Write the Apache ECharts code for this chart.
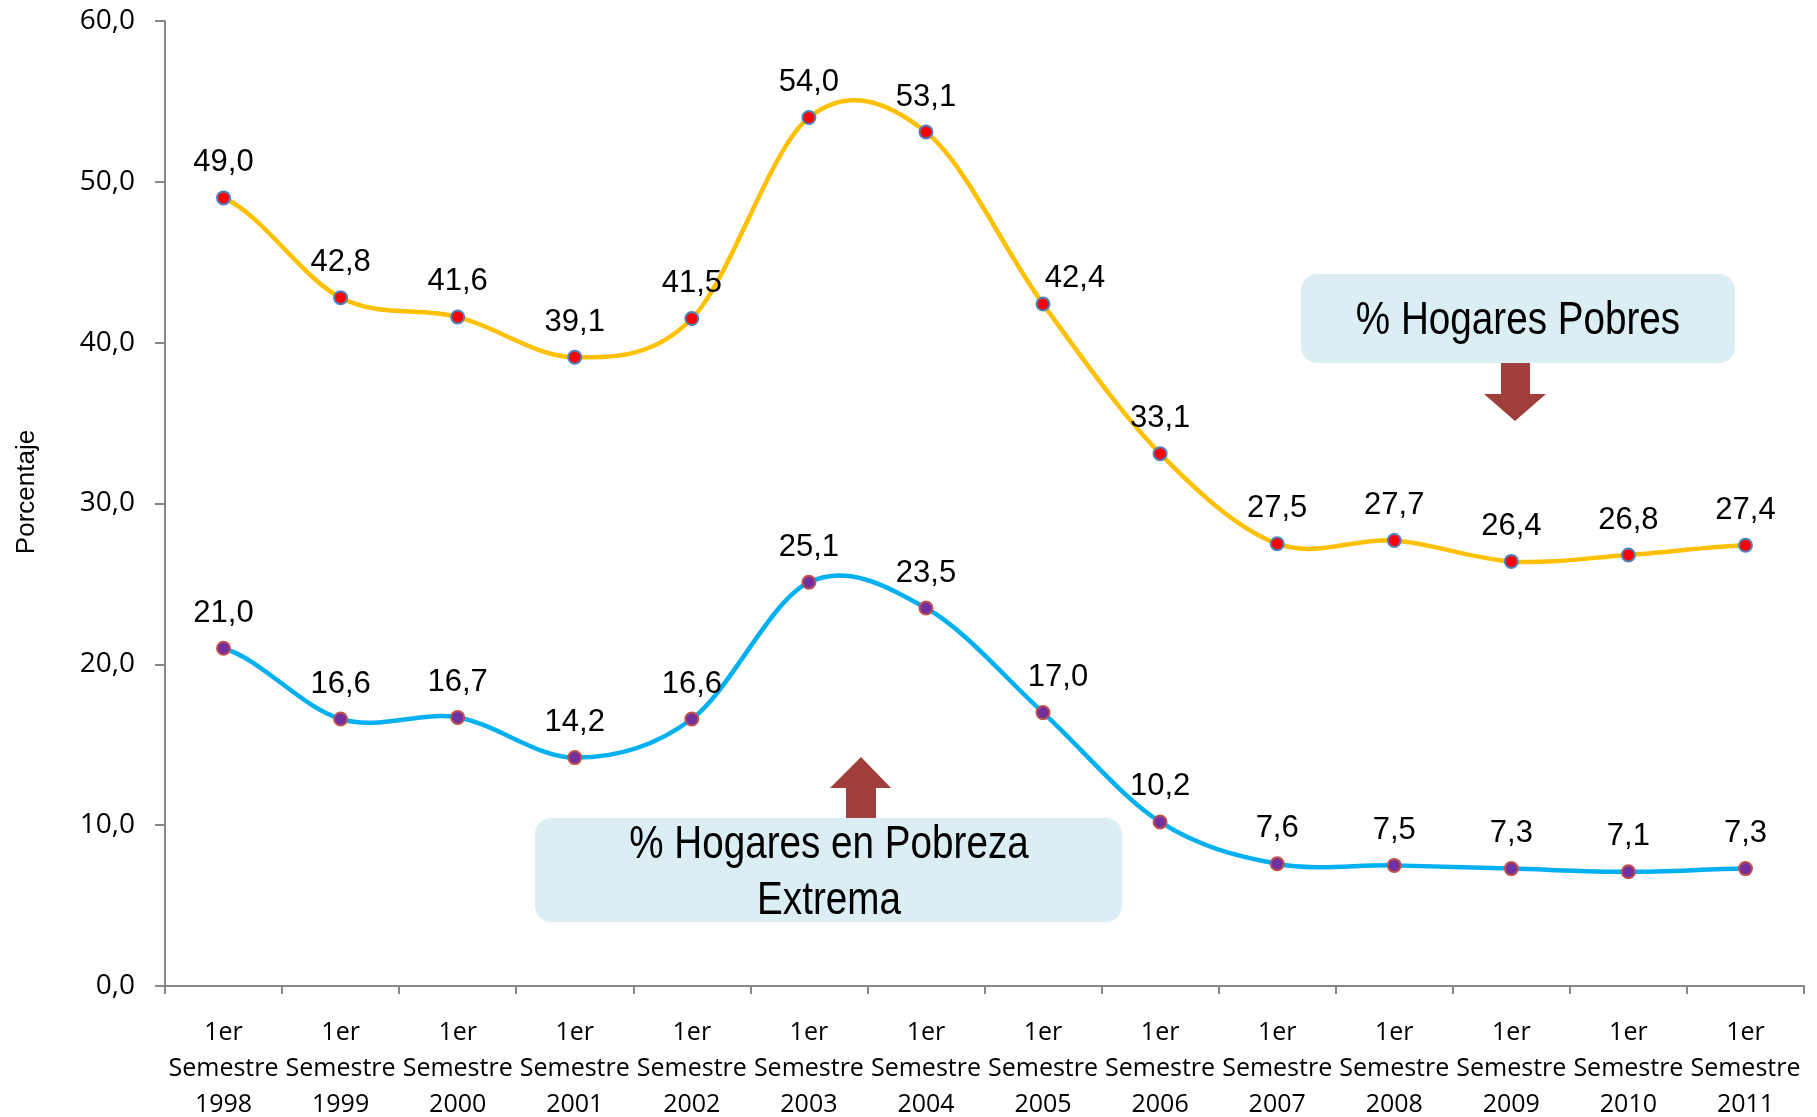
<!DOCTYPE html>
<html>
<head>
<meta charset="utf-8">
<title>Hogares pobres y en pobreza extrema</title>
<script src="https://cdn.jsdelivr.net/npm/echarts@6/dist/echarts.min.js"></script>
<style>
  html, body { margin: 0; padding: 0; background: #fff; }
  #chart { width: 1817px; height: 1117px; }
</style>
</head>
<body>
<div id="chart"></div>
<script>
// categorias del eje x
const periodos = ["1998", "1999", "2000", "2001", "2002", "2003", "2004",
  "2005", "2006", "2007", "2008", "2009", "2010", "2011"]

// % hogares pobres
const hogaresPobres = [49.0, 42.8, 41.6, 39.1, 41.5, 54.0, 53.1, 42.4, 33.1, 27.5, 27.7, 26.4, 26.8, 27.4]

// % hogares en pobreza extrema
const pobrezaExtrema = [21.0, 16.6, 16.7, 14.2, 16.6, 25.1, 23.5, 17.0, 10.2, 7.6, 7.5, 7.3, 7.1, 7.3]

const yMin = 0
const yMax = 60
const yStep = 10

const sans = '"Liberation Sans", Arial, sans-serif'
const fmt = v => v.toFixed(1).replace(".", ",")

// etiqueta desplazada para algunos puntos (2005)
const labelOffsets = {
  pobres: { 7: [32, 9] },
  extrema: { 7: [15, 0] }
}

function buildData(values, offsets) {
  return values.map((v, i) => {
    if (offsets[i]) {
      return { value: v, label: { offset: offsets[i] } }
    }
    return v
  })
}

// curva suavizada tipo Excel (catmull-rom), un tramo por punto
function smoothSegment(values, color) {
  return function (params, api) {
    const i = params.dataIndex
    if (i >= values.length - 1) return null
    const p = k => api.coord([k, values[Math.max(0, Math.min(values.length - 1, k))]])
    const p0 = p(i - 1), p1 = p(i), p2 = p(i + 1), p3 = p(i + 2)
    const c1 = [p1[0] + (p2[0] - p0[0]) / 6, p1[1] + (p2[1] - p0[1]) / 6]
    const c2 = [p2[0] - (p3[0] - p1[0]) / 6, p2[1] - (p3[1] - p1[1]) / 6]
    return {
      type: "bezierCurve",
      shape: {
        x1: p1[0], y1: p1[1],
        x2: p2[0], y2: p2[1],
        cpx1: c1[0], cpy1: c1[1],
        cpx2: c2[0], cpy2: c2[1]
      },
      style: { stroke: color, lineWidth: 4.5, fill: null, lineCap: "round" }
    }
  }
}

const chart = echarts.init(document.getElementById("chart"))

const labelStyle = {
  show: true,
  position: "top",
  distance: 12,
  fontFamily: sans,
  fontSize: 31,
  color: "#000",
  formatter: p => fmt(p.value)
}

const option = {
  backgroundColor: "#fff",
  animation: false,
  grid: {
    left: 165,
    right: 13,
    top: 21,
    bottom: 131,
    containLabel: false,
    outerBoundsMode: "none"
  },
  xAxis: {
    type: "category",
    data: periodos,
    boundaryGap: true,
    axisLine: { lineStyle: { color: "#868686", width: 2 } },
    axisTick: { show: true, alignWithLabel: false, length: 8, lineStyle: { color: "#868686", width: 2 } },
    axisLabel: {
      interval: 0,
      margin: 29,
      fontFamily: '"Open Sans", sans-serif',
      fontSize: 25,
      lineHeight: 36,
      color: "#000",
      formatter: v => "1er\nSemestre\n" + v
    }
  },
  yAxis: {
    type: "value",
    min: yMin,
    max: yMax,
    interval: yStep,
    name: "Porcentaje",
    nameLocation: "middle",
    nameRotate: 90,
    nameGap: 125,
    nameTextStyle: {
      fontFamily: sans,
      fontSize: 26,
      color: "#000",
      padding: [0, 0, 0, 23]
    },
    splitLine: { show: false },
    axisLine: { show: true, lineStyle: { color: "#868686", width: 2 } },
    axisTick: { show: true, length: 10, lineStyle: { color: "#868686", width: 2 } },
    axisLabel: {
      margin: 30,
      fontFamily: '"Open Sans", sans-serif',
      fontSize: 28,
      color: "#000",
      formatter: v => fmt(v)
    }
  },
  series: [
    {
      name: "curva pobres",
      type: "custom",
      data: hogaresPobres.map((v, i) => [i, v]),
      encode: { x: 0, y: 1 },
      renderItem: smoothSegment(hogaresPobres, "#FFC000"),
      silent: true,
      z: 2
    },
    {
      name: "curva extrema",
      type: "custom",
      data: pobrezaExtrema.map((v, i) => [i, v]),
      encode: { x: 0, y: 1 },
      renderItem: smoothSegment(pobrezaExtrema, "#00B0F0"),
      silent: true,
      z: 2
    },
    {
      name: "% Hogares Pobres",
      type: "line",
      data: buildData(hogaresPobres, labelOffsets.pobres),
      symbol: "circle",
      symbolSize: 13,
      lineStyle: { opacity: 0 },
      itemStyle: { color: "#FF0000", borderColor: "#4F81BD", borderWidth: 2 },
      label: labelStyle,
      z: 3
    },
    {
      name: "% Hogares en Pobreza Extrema",
      type: "line",
      data: buildData(pobrezaExtrema, labelOffsets.extrema),
      symbol: "circle",
      symbolSize: 13,
      lineStyle: { opacity: 0 },
      itemStyle: { color: "#7030A0", borderColor: "#C0504D", borderWidth: 2 },
      label: labelStyle,
      z: 3
    }
  ],
  graphic: [
    // recuadro superior + flecha hacia abajo
    {
      type: "rect",
      shape: { x: 1301, y: 274, width: 434, height: 89, r: 16 },
      style: { fill: "#DBEEF4" },
      z: 1
    },
    {
      type: "text",
      x: 1518,
      y: 321,
      scaleX: 0.84,
      style: {
        text: "% Hogares Pobres",
        fontFamily: sans,
        fontSize: 46,
        fill: "#000",
        align: "center",
        verticalAlign: "middle"
      },
      z: 2
    },
    {
      type: "polygon",
      shape: {
        points: [[1501, 363], [1530, 363], [1530, 394], [1546, 394], [1515, 421],
          [1484, 394], [1501, 394]]
      },
      style: { fill: "#A03E3B" },
      z: 1
    },
    // recuadro inferior + flecha hacia arriba
    {
      type: "rect",
      shape: { x: 535, y: 818, width: 587, height: 104, r: 16 },
      style: { fill: "#DBEEF4" },
      z: 1
    },
    {
      type: "text",
      x: 829,
      y: 873,
      scaleX: 0.84,
      style: {
        text: "% Hogares en Pobreza\nExtrema",
        fontFamily: sans,
        fontSize: 46,
        lineHeight: 56,
        fill: "#000",
        align: "center",
        verticalAlign: "middle"
      },
      z: 2
    },
    {
      type: "polygon",
      shape: {
        points: [[846, 818], [876, 818], [876, 788], [891, 788], [861, 757],
          [830, 788], [846, 788]]
      },
      style: { fill: "#A03E3B" },
      z: 1
    }
  ]
}

chart.setOption(option)
</script>
</body>
</html>
